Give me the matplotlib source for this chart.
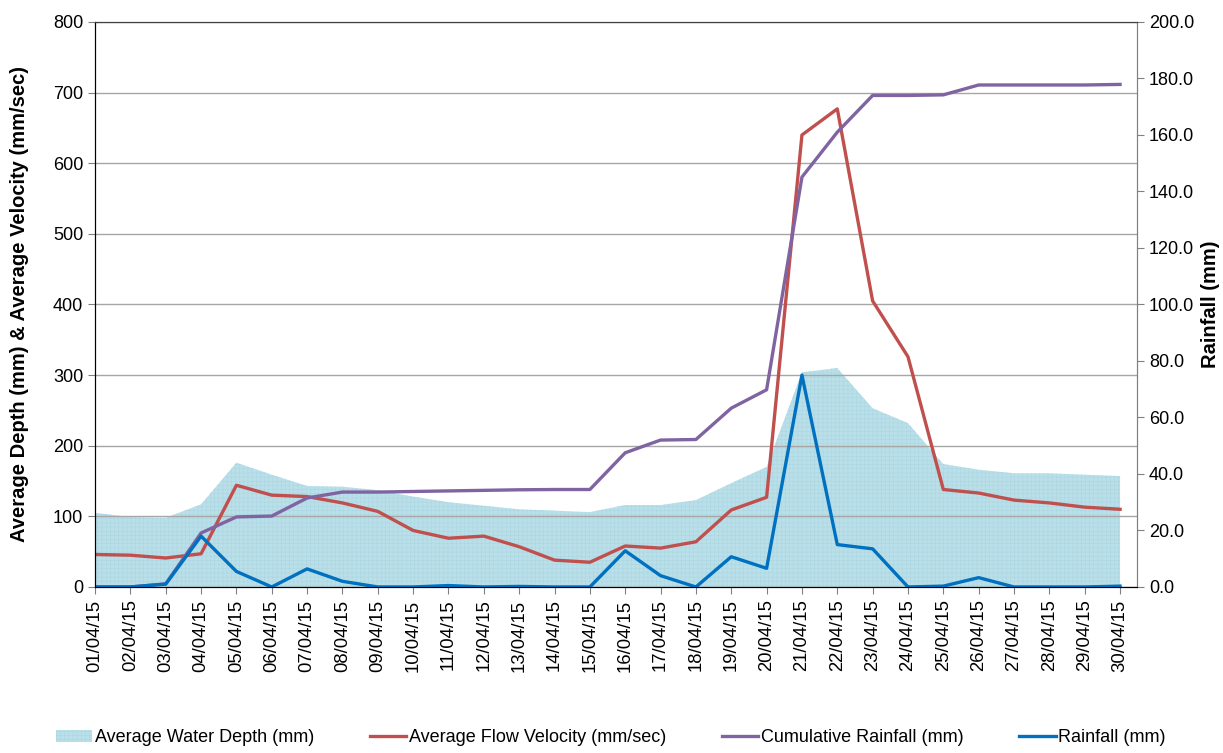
import numpy as np
import matplotlib.pyplot as plt
from matplotlib.ticker import MultipleLocator, FormatStrFormatter

plt.rcParams['font.family'] = ['Liberation Sans', 'DejaVu Sans']
plt.rcParams['hatch.linewidth'] = 0.3

dates = [f"{d:02d}/04/15" for d in range(1, 31)]

# left axis (mm and mm/sec)
water_depth = [105, 99, 98, 117, 176, 159, 143, 142, 137, 128,
               120, 115, 110, 108, 106, 116, 116, 123, 147, 170,
               304, 310, 253, 232, 174, 166, 161, 161, 159, 157]
flow_velocity = [46, 45, 41, 47, 144, 130, 128, 119, 107, 80,
                 69, 72, 57, 38, 35, 58, 55, 64, 109, 127,
                 640, 677, 405, 326, 138, 133, 123, 119, 113, 110]

# right axis (mm)
cum_rainfall = [0.0, 0.0, 1.1, 19.1, 24.8, 25.1, 31.5, 33.6, 33.6, 33.8,
                34.0, 34.2, 34.4, 34.5, 34.5, 47.5, 52.0, 52.2, 63.3, 69.8,
                145.1, 161.0, 174.0, 174.0, 174.2, 177.7, 177.7, 177.7, 177.7, 177.9]
rainfall = [0.0, 0.0, 1.0, 18.0, 5.5, 0.0, 6.4, 2.0, 0.0, 0.0,
            0.5, 0.0, 0.2, 0.0, 0.0, 12.8, 4.0, 0.0, 10.7, 6.6,
            75.0, 15.0, 13.5, 0.0, 0.3, 3.3, 0.0, 0.0, 0.0, 0.3]

x = np.arange(len(dates))

fig = plt.figure(figsize=(12.23, 7.53), dpi=100)
ax = fig.add_axes([0.0777, 0.2205, 0.852, 0.7503])
ax2 = ax.twinx()

ax.fill_between(x, water_depth, 0, facecolor='#b9dfe9', edgecolor='#a9d4e0',
                hatch='++++', linewidth=0, zorder=1, label='Average Water Depth (mm)')
ax.plot(x, flow_velocity, color='#c0504d', lw=2.4, zorder=2,
        label='Average Flow Velocity (mm/sec)')
ax2.plot(x, cum_rainfall, color='#8064a2', lw=2.4, label='Cumulative Rainfall (mm)')
ax2.plot(x, rainfall, color='#0070c0', lw=2.4, label='Rainfall (mm)')

ax.set_xlim(0, 29.48)
ax.set_ylim(0, 800)
ax2.set_ylim(0, 200)
ax.yaxis.set_major_locator(MultipleLocator(100))
ax2.yaxis.set_major_locator(MultipleLocator(20))
ax2.yaxis.set_major_formatter(FormatStrFormatter('%.1f'))

ax.set_xticks(x)
ax.set_xticklabels(dates, rotation=90, fontsize=13.3)
ax.tick_params(axis='y', labelsize=13, length=5, color='#808080')
ax.tick_params(axis='x', length=5, color='#808080', pad=4)
ax2.tick_params(axis='y', labelsize=13, length=5, color='#808080')

ax.grid(True, axis='y', color='#a6a6a6', lw=1)
ax.grid(False, axis='x')

for a in (ax, ax2):
    a.spines['left'].set_color('black')
    a.spines['bottom'].set_color('black')
    a.spines['right'].set_color('#808080')
    a.spines['top'].set_color('#404040')

ax.set_ylabel('Average Depth (mm) & Average Velocity (mm/sec)', fontsize=14.5,
              fontweight='bold', labelpad=17)
ax2.set_ylabel('Rainfall (mm)', fontsize=14.5, fontweight='bold', labelpad=5)

h1, l1 = ax.get_legend_handles_labels()
h2, l2 = ax2.get_legend_handles_labels()
fig.legend(h1 + h2, l1 + l2, loc='center', bbox_to_anchor=(0.4995, 0.02), ncol=4,
           frameon=False, fontsize=13, handlelength=2.0, handletextpad=0.15,
           columnspacing=3.1)

fig.savefig('out.png', dpi=100)
